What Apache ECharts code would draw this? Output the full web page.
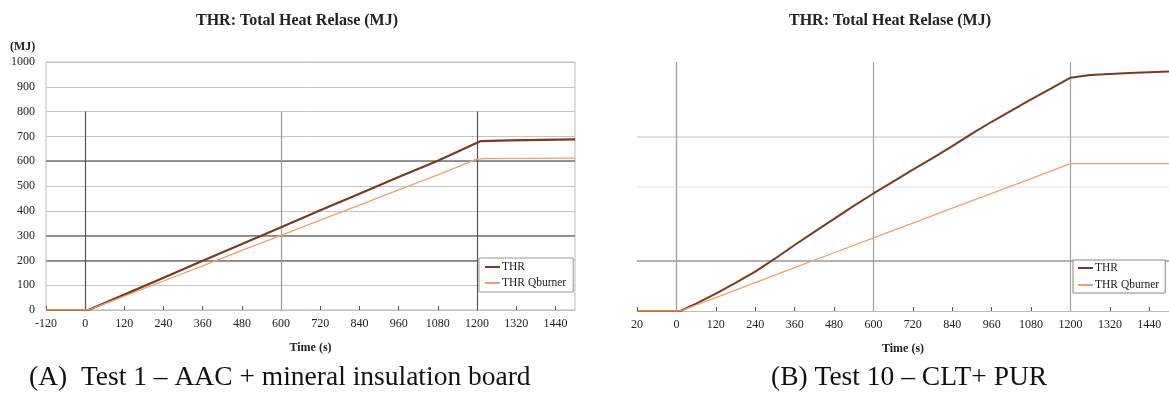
<!DOCTYPE html>
<html>
<head>
<meta charset="utf-8">
<script src="https://cdn.jsdelivr.net/npm/echarts@6/dist/echarts.min.js"></script>
<style>
html,body{margin:0;padding:0;background:#fff;}
#c{width:1169px;height:394px;}
</style>
</head>
<body>
<div id="c"></div>
<script>
// ---- data ----
const chartTitle = 'THR: Total Heat Relase (MJ)';
const seriesNames = ['THR', 'THR Qburner'];
const captionA = '(A)  Test 1 \u2013 AAC + mineral insulation board';
const captionB = '(B) Test 10 \u2013 CLT+ PUR';
const xName = 'Time (s)';
const yUnit = '(MJ)';

// Test 1 (A)
const timeA    = [-120, 10, 120, 240, 360, 480, 600, 720, 840, 960, 1080, 1200, 1212, 1300, 1400, 1500];
const thrA     = [0,    0,  62,  130, 199, 266, 334, 402, 469, 536, 602,  674,  681,  684,  686,  688];
const timeQA   = [-120, 10, 120, 240, 360, 480, 600, 720, 840, 960, 1080, 1195, 1220, 1500];
const qburnerA = [0,    0,  56,  117, 178, 240, 301, 362, 423, 484, 545,  606,  610,  612];

// Test 10 (B)
const timeB    = [-120, 12, 60, 120, 180, 240, 300, 360, 420, 480, 540, 600, 660, 720, 780, 840, 900, 960, 1020, 1080, 1140, 1200, 1260, 1320, 1380, 1440, 1500];
const thrB     = [0,    0,  30, 70,  113, 158, 210, 265, 318, 370, 422, 472, 520, 568, 614, 662, 712, 760, 805,  850,  893,  937,  948,  952,  956,  959,  962];
const timeQB   = [-120, 12, 120, 240, 360, 480, 600, 720, 840, 960, 1080, 1200, 1500];
const qburnerB = [0,    0,  54,  114, 174, 234, 294, 353, 413, 472, 532,  592,  592];

// reference lines
const darkHLinesA = [600, 300];
const hLine200A = 200;
const vLinesA = [0, 600, 1200];
const vLineTopA = 800;
const hLinesB = [200, 500, 700];
const vLinesB = [0, 600, 1200];
const vLineTopB = 1000;
const xMin = -120, xMax = 1500, xStep = 120;
const yMin = 0, yMax = 1000, yStep = 100;

// ---- build ----
const SERIF = "'Liberation Serif','Times New Roman',serif";
const THR_COLOR = '#7a3a1f';
const Q_COLOR = '#f2a06a';

function pairs(xs, ys){ return xs.map((x,i)=>[x, ys[i]]); }

const chart = echarts.init(document.getElementById('c'), null, {renderer:'canvas'});

function xAxisFor(gi, labelFmt){
  return {
    type:'value', gridIndex: gi, min:xMin, max:xMax, interval:xStep,
    name: xName, nameLocation:'middle', nameGap: 32,
    nameTextStyle:{fontFamily:SERIF, fontWeight:'bold', fontSize:12, color:'#222'},
    axisLine:{show:true, onZero:false, lineStyle:{color:'#bbb', width:1}},
    axisTick:{show:true, inside:true, length:4, lineStyle:{color:'#555'}},
    axisLabel:{fontFamily:SERIF, fontSize:12, color:'#222', margin:8, showMaxLabel:false, formatter: labelFmt},
    splitLine:{show:false}
  };
}

const vLineData = (vals, top, colors) => vals.map((v,i)=>[
  {coord:[v, 0], lineStyle:{color:colors[i], width:1.2, type:'solid'}},
  {coord:[v, top]}
]);

const option = {
  animation:false,
  backgroundColor:'#fff',
  title:[
    {text: chartTitle, left: 297, top: 13, padding:0, textAlign:'center',
     textStyle:{fontFamily:SERIF, fontWeight:'bold', fontSize:16, color:'#222'}},
    {text: chartTitle, left: 890, top: 13, padding:0, textAlign:'center',
     textStyle:{fontFamily:SERIF, fontWeight:'bold', fontSize:16, color:'#222'}}
  ],
  graphic:[
    {type:'text', left: 10, top: 41, style:{text: yUnit, font:"bold 12px 'Liberation Serif', serif", fill:'#222'}},
    {type:'text', left: 29, top: 364, style:{text: captionA, font:"27.5px 'Liberation Serif', serif", fill:'#111'}},
    {type:'text', left: 771, top: 364, style:{text: captionB, font:"27.5px 'Liberation Serif', serif", fill:'#111'}}
  ],
  legend:[
    {data: seriesNames.map((n)=>n), left: 479, top: 258, orient:'vertical', itemGap:4,
     padding:[3,7,3,6], itemWidth:15, itemHeight:2, icon:'rect',
     backgroundColor:'#fff', borderColor:'#999', borderWidth:1, borderRadius:0,
     textStyle:{fontFamily:SERIF, fontSize:11.5, color:'#222', padding:[0,0,0,-3]},
     selectedMode:false},
    {data: seriesNames.map((n)=>n+' '), left: 1073, top: 260, orient:'vertical', itemGap:5,
     padding:[2,6,2,5], itemWidth:15, itemHeight:2, icon:'rect',
     backgroundColor:'#fff', borderColor:'#888', borderWidth:1, borderRadius:0,
     textStyle:{fontFamily:SERIF, fontSize:11.5, color:'#222', padding:[0,0,0,-3]},
     formatter: (n)=>n.trim(),
     selectedMode:false}
  ],
  grid:[
    {left:46, right:594, top:62, bottom:84, show:true, borderColor:'#bbb', borderWidth:1, backgroundColor:'transparent'},
    {left:637, right:0, top:62, bottom:83, show:false}
  ],
  xAxis:[
    xAxisFor(0, (v)=>String(v)),
    xAxisFor(1, (v)=> v === -120 ? '20' : String(v))
  ],
  yAxis:[
    {type:'value', gridIndex:0, min:yMin, max:yMax, interval:yStep,
     axisLine:{show:false}, axisTick:{show:false},
     axisLabel:{fontFamily:SERIF, fontSize:12, color:'#222', margin:11, formatter:(v)=>String(v)},
     splitLine:{show:true, lineStyle:{color:'#c4c4c4', width:1}}},
    {type:'value', gridIndex:1, min:yMin, max:yMax, interval:yStep,
     axisLine:{show:true, lineStyle:{color:'#c8c8c8', width:1.2}}, axisTick:{show:false},
     axisLabel:{show:false}, splitLine:{show:false}}
  ],
  series:[
    {name: seriesNames[0], type:'line', xAxisIndex:0, yAxisIndex:0, data: pairs(timeA, thrA),
     symbol:'none', z:4, lineStyle:{color:THR_COLOR, width:2.2}, itemStyle:{color:THR_COLOR},
     markLine:{silent:true, symbol:'none', label:{show:false}, z:2,
       data:[
         ...darkHLinesA.map(v=>({yAxis:v, lineStyle:{color:'#777', width:1.6, type:'solid'}})),
         [{coord:[xMin, hLine200A], lineStyle:{color:'#777', width:1.6, type:'solid'}},{coord:[1200, hLine200A]}],
         ...vLineData(vLinesA, vLineTopA, ['#555','#999','#555'])
       ]}},
    {name: seriesNames[1], type:'line', xAxisIndex:0, yAxisIndex:0, data: pairs(timeQA, qburnerA),
     symbol:'none', z:5, lineStyle:{color:Q_COLOR, width:1.3}, itemStyle:{color:Q_COLOR}},
    {name: seriesNames[0]+' ', type:'line', xAxisIndex:1, yAxisIndex:1, data: pairs(timeB, thrB),
     symbol:'none', z:4, lineStyle:{color:THR_COLOR, width:2}, itemStyle:{color:THR_COLOR},
     markLine:{silent:true, symbol:'none', label:{show:false}, z:2,
       data:[
         {yAxis:hLinesB[0], lineStyle:{color:'#9a9a9a', width:1.6, type:'solid'}},
         {yAxis:hLinesB[1], lineStyle:{color:'#ececec', width:1.6, type:'solid'}},
         {yAxis:hLinesB[2], lineStyle:{color:'#d6d6d6', width:1.6, type:'solid'}},
         ...vLineData(vLinesB, vLineTopB, ['#a0a0a0','#a0a0a0','#a0a0a0'])
       ]}},
    {name: seriesNames[1]+' ', type:'line', xAxisIndex:1, yAxisIndex:1, data: pairs(timeQB, qburnerB),
     symbol:'none', z:5, lineStyle:{color:Q_COLOR, width:1.3}, itemStyle:{color:Q_COLOR}}
  ]
};
chart.setOption(option);
</script>
</body>
</html>
